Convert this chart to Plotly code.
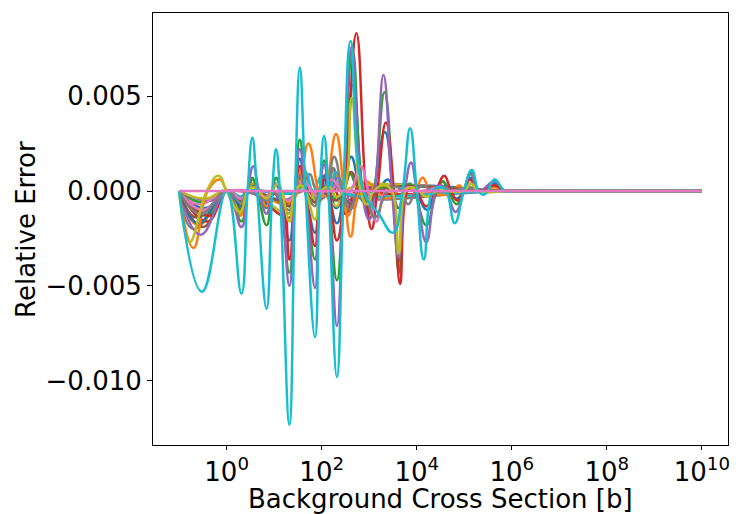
import plotly.graph_objects as go

# ---- tab10 colours ----
C_BLUE, C_ORANGE, C_GREEN, C_RED, C_PURPLE = "#1f77b4", "#ff7f0e", "#2ca02c", "#d62728", "#9467bd"
C_BROWN, C_PINK, C_GRAY, C_OLIVE, C_CYAN = "#8c564b", "#e377c2", "#7f7f7f", "#bcbd22", "#17becf"

# ---- data: log10(background cross section [b]) and relative error ----
cyan_e = [-1.0, -0.52, 0.0, 0.31, 0.44, 0.54, 0.64, 0.84, 0.96, 1.04, 1.12, 1.32, 1.44, 1.54, 1.66, 1.86, 1.96, 2.05, 2.14, 2.32,
          2.46, 2.61, 2.88, 3.2, 3.5, 3.7, 3.86, 4.0, 4.15, 4.34, 4.5, 4.62, 4.8, 4.99, 5.16, 5.30, 5.41, 5.49, 5.64, 5.85, 6.0, 10.0]
cyan_y = [0, -0.0053, 0, -0.0054, 0, 0.0028, 0, -0.0062, 0, 0.0022, 0, -0.0123, 0, 0.0065, 0, -0.0077, 0, 0.0029, 0, -0.0098,
          0, 0.0079, 0, -0.0012, -0.0022, 0, 0.0033, 0, -0.0036, 0, 0.0002, 0, -0.0017, 0, 0.0011, 0, -0.0002, 0, 0.0006, 0, 0, 0]

purple_e = [-1.0, -0.55, 0.0, 0.31, 0.44, 0.56, 0.68, 0.84, 0.96, 1.04, 1.12, 1.32, 1.44, 1.54, 1.66, 1.86, 1.96, 2.05, 2.14, 2.32,
            2.46, 2.63, 2.84, 3.0, 3.12, 3.30, 3.48, 3.62, 3.75, 3.88, 4.0, 4.2, 4.4, 4.5, 4.62, 4.82, 4.99, 5.14, 5.30, 5.64, 5.85, 6.0, 10.0]
purple_y = [0, -0.0023, 0, -0.0019, 0, 0.0013, 0, -0.0012, 0, 0.0004, 0, -0.0050, 0, 0.0022, 0, -0.0051, 0, 0.0014, 0, -0.0071,
            0, 0.0076, 0, -0.0015, 0, 0.0061, 0, -0.0035, 0, 0.0015, 0, -0.0027, 0, 0.0003, 0, -0.0011, 0, 0.0010, 0, 0.0005, 0, 0, 0]

green_e = [-1.0, -0.4, 0.0, 0.31, 0.44, 0.54, 0.64, 0.84, 0.96, 1.04, 1.12, 1.32, 1.44, 1.54, 1.66, 1.86, 1.96, 2.05, 2.14, 2.32,
           2.46, 2.65, 2.86, 2.98, 3.1, 3.32, 3.5, 3.63, 3.76, 3.85, 3.95, 4.2, 4.42, 4.55, 4.67, 4.84, 4.99, 5.14, 5.30, 5.64, 5.85, 6.0, 10.0]
green_y = [0, -0.0013, 0, -0.0016, 0, 0.0007, 0, -0.0018, 0, 0.0007, 0, -0.0043, 0, 0.0027, 0, -0.0036, 0, 0.0016, 0, -0.0047,
           0, 0.0074, 0, -0.0009, 0, 0.0052, 0, -0.0043, 0, 0.0004, 0, -0.0018, 0, 0.0005, 0, -0.0007, 0, 0.0009, 0, 0.0003, 0, 0, 0]

red_e = [-1.0, -0.35, 0.0, 0.31, 0.44, 0.84, 1.12, 1.32, 1.44, 1.54, 1.66, 1.86, 1.96, 2.06, 2.15, 2.32, 2.48, 2.73, 2.93, 3.05,
         3.17, 3.35, 3.52, 3.65, 3.8, 3.9, 4.0, 4.2, 4.4, 4.58, 4.72, 4.86, 4.99, 5.12, 5.30, 5.64, 5.85, 6.0, 10.0]
red_y = [0, -0.0013, 0, -0.0005, 0, -0.0004, 0, -0.0036, 0, 0.0013, 0, -0.0029, 0, 0.0006, 0, -0.0026, 0, 0.0083, 0, -0.0020,
         0, 0.0036, 0, -0.0049, 0, 0.0002, 0, -0.0008, 0, 0.0008, 0, -0.0005, 0, 0.0006, 0, 0.0003, 0, 0, 0]

blue_e = [-1.0, -0.6, 0.0, 0.31, 0.44, 0.54, 0.64, 0.84, 0.96, 1.04, 1.12, 1.32, 1.44, 1.54, 1.66, 1.86, 1.96, 2.05, 2.14, 2.32,
          2.46, 2.66, 2.86, 2.98, 3.1, 3.33, 3.5, 3.63, 3.76, 3.86, 3.98, 4.22, 4.42, 4.55, 4.67, 4.84, 4.99, 5.14, 5.30, 5.64, 5.85, 6.0, 10.0]
blue_y = [0, -0.0017, 0, -0.0008, 0, 0.0003, 0, -0.0007, 0, 0.0003, 0, -0.0026, 0, 0.0017, 0, -0.0022, 0, 0.0008, 0, -0.0017,
          0, 0.0056, 0, -0.0012, 0, 0.0031, 0, -0.0037, 0, 0.0003, 0, -0.0010, 0, 0.0005, 0, -0.0004, 0, 0.0007, 0, 0.0004, 0, 0, 0]

orange_e = [-1.0, -0.7, -0.4, -0.15, 0.0, 0.29, 0.44, 0.56, 0.68, 0.84, 1.0, 1.32, 1.5, 1.72, 1.93, 2.0, 2.08, 2.30, 2.47, 2.61,
            2.78, 2.95, 3.15, 3.4, 3.6, 3.8, 3.96, 4.12, 4.3, 4.6, 4.75, 4.9, 5.0, 5.15, 5.3, 5.64, 5.85, 6.0, 10.0]
orange_y = [0, -0.0030, 0, 0.0006, 0, -0.0013, 0, 0.0004, 0, -0.0008, 0, -0.0006, 0, 0.0025, 0, -0.0003, 0, 0.0030, 0, -0.0024,
            0, 0.0005, 0, -0.0004, 0, 0.0002, 0, 0.0007, 0, -0.0002, 0, 0.0003, 0, 0.0004, 0, 0.0002, 0, 0, 0]

olive_e = [-1.0, -0.78, -0.42, -0.17, 0.0, 0.28, 0.44, 0.56, 0.68, 0.84, 0.96, 1.08, 1.16, 1.32, 1.44, 1.56, 1.66, 1.86, 2.0, 2.16,
           2.3, 2.46, 2.63, 2.82, 2.95, 3.1, 3.3, 3.48, 3.62, 3.76, 3.9, 4.05, 4.2, 4.42, 4.99, 5.14, 5.3, 6.0, 10.0]
olive_y = [0, -0.0027, 0, 0.0008, 0, -0.0011, 0, 0.0002, 0, -0.0004, 0, 0.0004, 0, -0.0016, 0, 0.0003, 0, -0.0015, 0, 0.0002,
           -0.0003, 0, 0.0049, 0, -0.0007, 0, 0.0003, 0, -0.0033, 0, 0.0002, 0, -0.0003, 0, 0, 0.0004, 0, 0, 0]

gray_e = [-1.0, -0.55, 0.0, 0.3, 0.44, 0.84, 0.96, 1.32, 1.44, 1.54, 1.66, 1.86, 1.96, 2.1, 2.26, 2.44, 2.6, 2.76, 2.86, 3.12,
          3.38, 3.6, 3.68, 3.82, 3.98, 4.15, 4.3, 4.57, 4.72, 5.14, 5.3, 6.0, 10.0]
gray_y = [0, -0.0012, 0, -0.0006, 0, -0.0005, 0, -0.0010, 0, 0.0008, 0, -0.0008, 0, 0.0002, 0.0018, 0, -0.0010, 0, 0.0001, -0.0014,
          0, 0.0002, 0, -0.0007, 0, 0.0003, 0, 0.0002, 0, 0.0002, 0, 0, 0]

pink_e = [-1.0, -0.5, 0.0, 0.31, 0.44, 0.84, 0.96, 1.32, 1.44, 1.62, 1.8, 1.9, 2.05, 2.2, 2.45, 2.6, 2.82, 2.98, 3.15, 3.35,
          3.6, 3.86, 4.0, 4.57, 4.72, 5.14, 5.3, 6.0, 10.0]
pink_y = [0, -0.0010, 0, -0.0004, 0, -0.0003, 0, -0.0005, 0, 0.0005, 0, -0.0003, 0, 0.0006, 0, 0, 0.0013, 0, -0.0016, 0,
          0, 0.0002, 0, 0.0002, 0, 0.0002, 0, 0, 0]

brown_e = [-1.0, -0.63, 0.0, 0.31, 0.44, 0.84, 0.96, 1.32, 1.44, 1.54, 1.66, 1.86, 1.96, 2.3, 2.46, 2.62, 2.8, 3.0, 3.2, 6.0, 10.0]
brown_y = [0, -0.0014, 0, -0.0005, 0, -0.0004, 0, -0.0008, 0, 0.0004, 0, -0.0006, 0, -0.0005, 0, 0.0010, 0, -0.0006, 0, 0, 0]

# second-cycle, smaller curves
e1_e = [-1.0, -0.45, 0.0, 0.3, 0.44, 0.84, 0.96, 1.3, 1.46, 1.62, 1.78, 1.9, 2.02, 2.12, 2.3, 2.46, 2.62, 2.82, 3.0, 3.2, 3.4, 3.62, 3.8, 6.0, 10.0]
e1_y = [0, -0.0009, 0, -0.0006, 0, -0.0003, 0, -0.0012, 0, 0.0011, 0, -0.0005, 0, 0.0004, -0.0009, 0, 0.0018, 0, -0.0008, 0, 0.0006, -0.0009, 0, 0, 0]
e2_e = [-1.0, -0.6, 0.0, 0.3, 0.44, 1.3, 1.46, 1.6, 1.75, 1.92, 2.08, 2.22, 2.4, 2.55, 2.72, 2.9, 3.1, 6.0, 10.0]
e2_y = [0, -0.0018, 0, -0.0007, 0, -0.0007, 0, 0.0014, 0, -0.0006, 0, 0.0012, 0, -0.0013, 0, 0.0004, 0, 0, 0]
e3_e = [-1.0, -0.5, 0.0, 0.3, 0.44, 0.55, 0.68, 0.84, 0.96, 1.32, 1.44, 1.6, 1.76, 1.88, 2.0, 2.12, 2.32, 2.46, 2.6, 2.75, 2.9, 3.05, 6.0, 10.0]
e3_y = [0, -0.0006, 0, -0.0010, 0, 0.0006, 0, -0.0009, 0, -0.0008, 0, 0.0009, 0, -0.0004, 0, 0.0008, -0.0005, 0, 0.0009, 0, -0.0006, 0, 0, 0]
e4_e = [-1.0, -0.4, 0.0, 0.3, 0.44, 1.32, 1.44, 1.58, 1.72, 1.86, 1.98, 2.12, 2.3, 2.5, 2.7, 2.9, 3.05, 6.0, 10.0]
e4_y = [0, -0.0016, 0, -0.0004, 0, -0.0014, 0, 0.0007, 0, -0.0002, 0, 0.0010, 0, -0.0012, 0, 0.0003, 0, 0, 0]
e5_e = [-1.0, -0.3, 0.0, 1.32, 1.46, 1.64, 1.8, 2.0, 2.16, 2.34, 2.5, 2.68, 2.86, 6.0, 10.0]
e5_y = [0, -0.0005, 0, -0.0004, 0, 0.0006, 0, -0.0004, 0, 0.0007, 0, -0.0009, 0, 0, 0]
e6_e = [-1.0, -0.5, 0.0, 0.3, 0.44, 1.32, 1.44, 1.62, 1.8, 2.2, 2.4, 2.62, 2.8, 6.0, 10.0]
e6_y = [0, -0.0019, 0, -0.0009, 0, -0.0006, 0, 0.0008, 0, 0.0005, 0, -0.0007, 0, 0, 0]
e7_e = [-1.0, -0.6, 0.0, 1.5, 1.65, 1.8, 2.2, 2.34, 2.48, 6.0, 10.0]
e7_y = [0, -0.0007, 0, 0, 0.0006, 0, 0, 0.0005, 0, 0, 0]
e8_e = [-1.0, -0.7, 0.0, 0.3, 0.44, 1.6, 1.75, 1.9, 2.1, 2.25, 2.4, 6.0, 10.0]
e8_y = [0, -0.0020, 0, -0.0003, 0, 0, 0.0009, 0, 0, 0.0012, 0, 0, 0]
e9_e = [-1.0, -0.45, 0.0, 0.3, 0.44, 1.32, 1.44, 1.6, 1.78, 1.86, 1.96, 2.32, 2.46, 6.0, 10.0]
e9_y = [0, -0.0004, 0, -0.0012, 0, -0.0012, 0, 0.0006, 0, -0.0006, 0, -0.0008, 0, 0, 0]
e10_e = [-1.0, -0.5, 0.0, 0.3, 0.44, 1.5, 1.66, 1.82, 2.0, 2.15, 2.3, 2.45, 2.6, 6.0, 10.0]
e10_y = [0, -0.0011, 0, -0.0003, 0, 0, 0.0010, 0, 0.0008, 0, 0.0010, 0, -0.0002, 0, 0]

flat_e = [-1.0, 10.0]
flat_y = [0, 0]

x_tick_exp = [0, 2, 4, 6, 8, 10]
y_tick_vals = [-0.010, -0.005, 0.000, 0.005]
y_tick_text = ["\u22120.010", "\u22120.005", "0.000", "0.005"]

curves = [
    (e1_e, e1_y, C_BLUE), (e2_e, e2_y, C_ORANGE), (e3_e, e3_y, C_GREEN), (e4_e, e4_y, C_RED),
    (e5_e, e5_y, C_PURPLE), (e6_e, e6_y, C_BROWN), (e7_e, e7_y, C_PINK), (e8_e, e8_y, C_GRAY),
    (e9_e, e9_y, C_OLIVE), (e10_e, e10_y, C_CYAN),
    (blue_e, blue_y, C_BLUE), (orange_e, orange_y, C_ORANGE), (green_e, green_y, C_GREEN),
    (red_e, red_y, C_RED), (purple_e, purple_y, C_PURPLE), (brown_e, brown_y, C_BROWN),
    (pink_e, pink_y, C_PINK), (gray_e, gray_y, C_GRAY), (olive_e, olive_y, C_OLIVE),
    (cyan_e, cyan_y, C_CYAN),
    (flat_e, flat_y, C_PINK),
]

fig = go.Figure()
for ex, ys, col in curves:
    fig.add_trace(go.Scatter(
        x=[10 ** v for v in ex], y=ys, mode="lines",
        line=dict(color=col, width=2.5, shape="spline", smoothing=1.3),
        hoverinfo="skip", showlegend=False,
    ))

FONT = dict(family="DejaVu Sans", size=26, color="black")
fig.update_layout(
    width=736, height=514,
    margin=dict(l=153, r=8, t=13, b=69, autoexpand=False),
    paper_bgcolor="white", plot_bgcolor="white",
    font=FONT,
    showlegend=False,
    annotations=[
        dict(text="Background Cross Section [b]", xref="paper", yref="paper",
             x=0.5, y=-0.126, xanchor="center", yanchor="middle", showarrow=False, font=FONT),
        dict(text="Relative Error", xref="paper", yref="paper",
             x=-0.221, y=0.5, xanchor="center", yanchor="middle", textangle=-90, showarrow=False, font=FONT),
    ],
)
fig.update_xaxes(
    type="log", range=[-1.55, 10.55], automargin=False,
    tickvals=[10 ** v for v in x_tick_exp],
    ticktext=[f"10<sup>{v}</sup>" for v in x_tick_exp],
    ticks="outside", ticklen=4, tickwidth=1, tickcolor="black",
    showline=True, linecolor="black", linewidth=1, mirror=True,
    showgrid=False, zeroline=False,
)
fig.update_yaxes(
    range=[-0.01337, 0.00937], automargin=False,
    tickvals=y_tick_vals, ticktext=y_tick_text,
    ticks="outside", ticklen=5, tickwidth=1, tickcolor="black",
    showline=True, linecolor="black", linewidth=1, mirror=True,
    showgrid=False, zeroline=False,
)

fig.write_html("out.html", config={"displayModeBar": False})

# remove the browser's default page margin so the 736x514 figure fills the window exactly
with open("out.html", "r", encoding="utf-8") as fh:
    page = fh.read()
page = page.replace("<head>", "<head><style>html,body{margin:0;padding:0;overflow:hidden;}</style>", 1)
with open("out.html", "w", encoding="utf-8") as fh:
    fh.write(page)
